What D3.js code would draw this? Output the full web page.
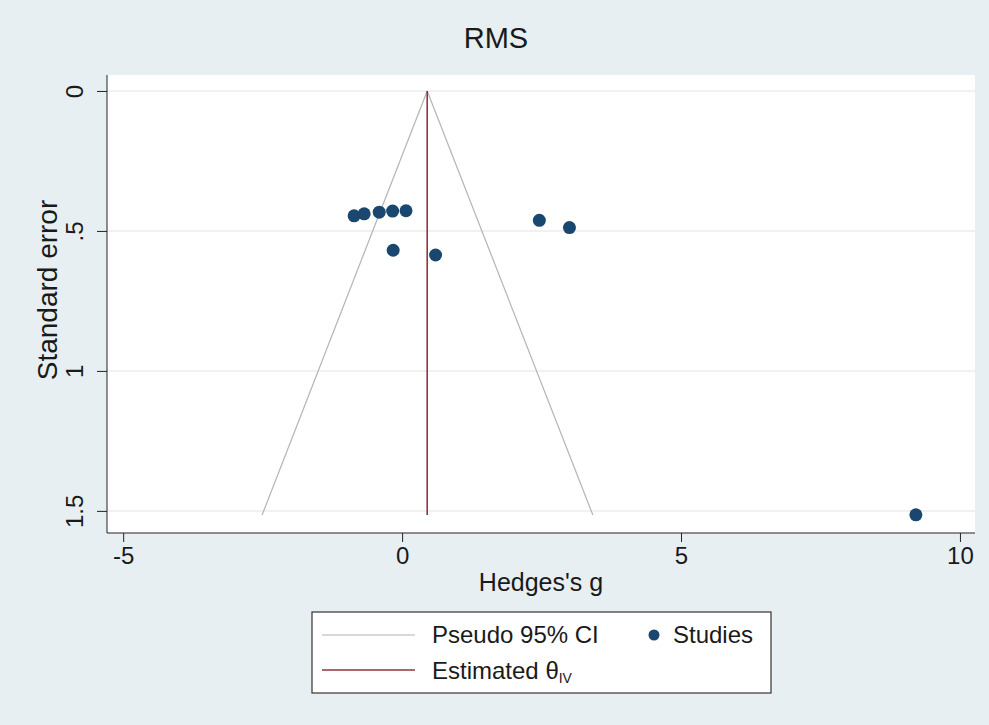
<!DOCTYPE html>
<html>
<head>
<meta charset="utf-8">
<script src="https://cdn.jsdelivr.net/npm/d3@7"></script>
<style>
  body { margin: 0; background: #e8eff2; }
  svg { display: block; font-family: "Liberation Sans", Arial, sans-serif; }
</style>
</head>
<body>
<div id="container"></div>
<script>
const width = 989;
const height = 725;
const margin = {top: 75, right: 14, bottom: 192, left: 107};

//------------------DATA------------------//
const studyG  = [-0.86, -0.68, -0.41, -0.17, 0.07, 2.46, 3.00, -0.16, 0.60, 9.21];
const studySE = [0.446, 0.439, 0.433, 0.429, 0.428, 0.462, 0.488, 0.569, 0.586, 1.514];
const theta = 0.45;
const ciLeftG  = [0.45, -2.51];
const ciRightG = [0.45, 3.42];
const ciSE     = [0, 1.515];
const xTicks = [-5, 0, 5, 10];
const xTickLabels = ["-5", "0", "5", "10"];
const yTicks = [0, 0.5, 1, 1.5];
const yTickLabels = ["0", ".5", "1", "1.5"];

const points = studyG.map(function(g, i) { return {g: g, se: studySE[i]}; });

//------------------SVG------------------//
const svg = d3.select("#container").append("svg")
  .attr("width", width)
  .attr("height", height);

svg.append("rect")
  .attr("width", width).attr("height", height)
  .style("fill", "#e8eff2");

const w = width - margin.left - margin.right;
const h = height - margin.top - margin.bottom;

//------------------SCALES------------------//
const xScale = d3.scaleLinear().domain([-5.29, 10.27]).range([margin.left, margin.left + w]);
const yScale = d3.scaleLinear().domain([-0.057, 1.579]).range([margin.top, margin.top + h]);

svg.append("rect")
  .attr("x", margin.left).attr("y", margin.top)
  .attr("width", w).attr("height", h)
  .style("fill", "#ffffff");

// grid
svg.selectAll("gridlines")
  .data(yTicks)
  .enter()
  .append("line")
  .attr("x1", margin.left).attr("x2", margin.left + w)
  .attr("y1", function(d) { return yScale(d); })
  .attr("y2", function(d) { return yScale(d); })
  .style("stroke", "#ececec")
  .style("stroke-width", 1.5);

//------------------AXES------------------//
const xaxis = d3.axisBottom(xScale)
  .tickValues(xTicks)
  .tickSizeInner(9).tickSizeOuter(0)
  .tickFormat(function(d, i) { return xTickLabels[i]; });

const yaxis = d3.axisLeft(yScale)
  .tickValues(yTicks)
  .tickSizeInner(10).tickSizeOuter(0)
  .tickFormat(function(d, i) { return yTickLabels[i]; });

const gx = svg.append("g")
  .attr("transform", "translate(0," + (margin.top + h) + ")")
  .call(xaxis);
gx.select(".domain").attr("d", "M" + margin.left + ",0H" + (margin.left + w)).style("stroke", "#222");
gx.selectAll(".tick line").style("stroke", "#222");
gx.selectAll(".tick text")
  .attr("dy", null).attr("y", 31)
  .style("font-size", "24px").style("fill", "#1a1a1a");

const gy = svg.append("g")
  .attr("transform", "translate(" + margin.left + ",0)")
  .call(yaxis);
gy.select(".domain").attr("d", "M0," + margin.top + "V" + (margin.top + h)).style("stroke", "#222");
gy.selectAll(".tick line").style("stroke", "#222");
gy.selectAll(".tick text")
  .attr("x", null).attr("dy", null)
  .attr("transform", "translate(-24,0) rotate(-90)")
  .attr("text-anchor", "middle")
  .style("font-size", "24px").style("fill", "#1a1a1a");

svg.append("text")
  .attr("x", margin.left + w / 2)
  .attr("y", 591)
  .attr("text-anchor", "middle")
  .style("font-size", "25px").style("fill", "#1a1a1a")
  .text("Hedges's g");

svg.append("text")
  .attr("transform", "translate(57,290) rotate(-90)")
  .attr("text-anchor", "middle")
  .style("font-size", "28px").style("fill", "#1a1a1a")
  .text("Standard error");

svg.append("text")
  .attr("x", 496)
  .attr("y", 48)
  .attr("text-anchor", "middle")
  .style("font-size", "29px").style("fill", "#1a1a1a")
  .text("RMS");

//------------------LINES------------------//
const line = d3.line()
  .x(function(d) { return xScale(d[0]); })
  .y(function(d) { return yScale(d[1]); });

[ciLeftG, ciRightG].forEach(function(arr) {
  svg.append("path")
    .attr("d", line(arr.map(function(g, i) { return [g, ciSE[i]]; })))
    .style("fill", "none")
    .style("stroke", "#b4b4b4")
    .style("stroke-width", 1.2);
});

svg.append("path")
  .attr("d", line([[theta, ciSE[0]], [theta, ciSE[1]]]))
  .style("fill", "none")
  .style("stroke", "#90353b")
  .style("stroke-width", 1.6);

//------------------POINTS------------------//
svg.selectAll("dots")
  .data(points)
  .enter()
  .append("circle")
  .attr("cx", function(d) { return xScale(d.g); })
  .attr("cy", function(d) { return yScale(d.se); })
  .attr("r", 6.5)
  .style("fill", "#1a476f");

//------------------LEGEND------------------//
const lg = svg.append("g");
lg.append("rect")
  .attr("x", 312).attr("y", 612)
  .attr("width", 459).attr("height", 81)
  .style("fill", "#ffffff")
  .style("stroke", "#333")
  .style("stroke-width", 1.2);

lg.append("line")
  .attr("x1", 322).attr("x2", 415).attr("y1", 635).attr("y2", 635)
  .style("stroke", "#b4b4b4").style("stroke-width", 1.2);
lg.append("text")
  .attr("x", 432).attr("y", 643)
  .style("font-size", "24px").style("fill", "#1a1a1a")
  .text("Pseudo 95% CI");

lg.append("circle")
  .attr("cx", 654).attr("cy", 635).attr("r", 5.5)
  .style("fill", "#1a476f");
lg.append("text")
  .attr("x", 673).attr("y", 643)
  .style("font-size", "24px").style("fill", "#1a1a1a")
  .text("Studies");

lg.append("line")
  .attr("x1", 322).attr("x2", 415).attr("y1", 670).attr("y2", 670)
  .style("stroke", "#90353b").style("stroke-width", 1.6);
const est = lg.append("text")
  .attr("x", 432).attr("y", 679)
  .style("font-size", "24px").style("fill", "#1a1a1a");
est.append("tspan").text("Estimated θ");
est.append("tspan").attr("dy", 4).style("font-size", "14px").text("IV");
</script>
</body>
</html>
